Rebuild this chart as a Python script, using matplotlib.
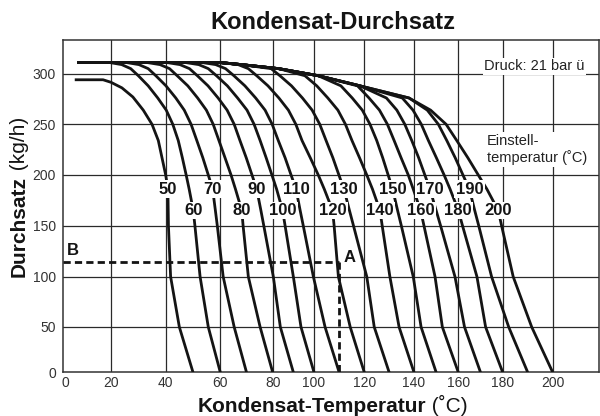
import numpy as np
import matplotlib
matplotlib.use('Agg')
import matplotlib.pyplot as plt

plt.rcParams['font.family'] = ['Liberation Sans', 'DejaVu Sans']

# set temperatures (degC) of the curve family
set_temps = [60, 70, 80, 90, 100, 110, 120, 130, 140, 150, 160, 170, 180, 190, 200]

flow_levels = [311, 309, 305, 298, 288, 276, 264, 250, 234, 217, 200, 186, 165, 150, 100, 50, 0]

t60 = [19.5, 23.9, 27.2, 30.0, 33.6, 37.1, 40.2, 42.6, 44.6, 46.1, 47.5, 48.6, 50.1, 50.7, 52.6, 55.6, 60]
t70 = [25.7, 30.2, 33.6, 36.4, 40.1, 43.7, 46.8, 49.3, 51.4, 53.6, 55.6, 57.2, 58.2, 58.9, 61.1, 65.3, 70]
t80 = [33.3, 37.9, 41.4, 44.2, 48.1, 51.7, 54.9, 57.4, 59.5, 61.8, 64.1, 65.8, 68.2, 68.7, 70.7, 75.2, 80]
t90 = [40.5, 45.2, 48.7, 51.6, 55.5, 59.2, 62.6, 65.3, 67.5, 69.9, 72.1, 73.9, 75.5, 76.6, 80.3, 83.7, 90]
t100 = [47.3, 52.1, 55.6, 58.6, 62.7, 66.6, 70.2, 72.9, 75.2, 77.5, 79.7, 81.9, 84.8, 86.0, 90.0, 93.7, 100]
t110 = [53.4, 58.3, 62.0, 65.2, 69.4, 73.5, 77.1, 79.8, 82.7, 86.0, 88.9, 91.3, 93.3, 94.8, 99.7, 104.4, 110]
t120 = [60.0, 66.8, 70.7, 73.9, 78.2, 83.0, 87.6, 91.2, 94.2, 98.2, 101.7, 104.1, 107.4, 108.0, 109.7, 114.4, 120]
t130 = [60, 68.0, 79.4, 83.5, 89.1, 94.4, 99.1, 102.3, 104.8, 107.5, 109.9, 111.9, 114.1, 115.7, 121.0, 124.0, 130]
t140 = [60, 68.0, 82.9, 95.6, 101.1, 105.5, 109.5, 112.5, 115.1, 118.1, 121.0, 123.3, 126.3, 127.2, 130.3, 134.0, 140]
t150 = [60, 68.0, 82.9, 101.7, 110.7, 115.2, 119.2, 122.3, 125.0, 127.4, 129.6, 131.4, 133.4, 134.9, 139.7, 143.2, 150]
t160 = [60, 68.0, 82.9, 101.7, 117.3, 121.9, 126.1, 129.3, 132.0, 134.8, 137.7, 139.7, 143.0, 144.5, 149.5, 152.8, 160]
t170 = [60, 68.0, 82.9, 101.7, 118.3, 128.9, 133.1, 136.3, 139.1, 142.1, 144.9, 147.2, 150.0, 152.0, 158.5, 162.8, 170]
t180 = [60, 68.0, 82.9, 101.7, 118.3, 135.3, 139.6, 143.3, 146.5, 150.1, 153.6, 156.3, 160.0, 161.9, 168.4, 172.3, 180]
t190 = [60, 68.0, 82.9, 101.7, 118.3, 138.0, 146.0, 151.0, 154.8, 158.6, 162.1, 165.0, 167.4, 169.2, 175.0, 182.4, 190]
t200 = [60, 68.0, 82.9, 101.7, 118.3, 138.0, 147.5, 154.5, 159.3, 164.3, 169.0, 172.9, 178.0, 179.5, 184.2, 191.6, 200]
curve_temps = [t60, t70, t80, t90, t100, t110, t120, t130, t140, t150,
               t160, t170, t180, t190, t200]

# common top line
plateau_start = 5
plateau_flow = 311

# the 50 degC curve runs lower and was read on its own
t50 = [4, 16.5, 20, 24, 28, 31.8, 35, 37.3, 40, 40.8, 41, 41.8, 45, 50]
q50 = [294, 294, 291.5, 286, 277, 264, 250, 234, 200, 186, 150, 100, 50, 0]

# curve labels sit in two rows
label_flow_odd = 186
label_flow_even = 165

# example reading B -> A
op_temp = 110
op_flow = 114

x_ticks = [0, 20, 40, 60, 80, 100, 120, 140, 160, 180, 200]
y_ticks = [0, 50, 100, 150, 200, 250, 300]

# the printed axes are not evenly divided: pixel position of every tick
x_knots = [-20] + x_ticks + [240]
x_pos = [20.4, 65.7, 111, 165.7, 220.3, 272.7, 314, 364.3, 414, 458.3, 502.7, 552.7, 652.7]
y_knots = [-50] + y_ticks + [400]
y_pos = [-1.6, 43.7, 89, 139.3, 190.3, 241, 291.7, 342.3, 443.5]

W, H = 600, 416
ink = '#141414'


def xf(t):
    return np.interp(t, x_knots, x_pos)


def xi(p):
    return np.interp(p, x_pos, x_knots)


def yf(q):
    return np.interp(q, y_knots, y_pos)


def yi(p):
    return np.interp(p, y_pos, y_knots)


fig = plt.figure(figsize=(W / 100, H / 100), dpi=100)
ax = fig.add_axes([62.7 / W, 43.7 / H, (598.5 - 62.7) / W, (375.7 - 43.7) / H])
ax.set_xscale('function', functions=(xf, xi))
ax.set_yscale('function', functions=(yf, yi))
ax.set_xlim(xi(62.7), xi(598.5))
ax.set_ylim(0, yi(375.7))

for t in x_ticks[1:]:
    ax.axvline(t, color='#2a2a2a', lw=0.9, zorder=1)
for q in y_ticks[1:]:
    ax.axhline(q, color='#2a2a2a', lw=0.9, zorder=1)

ax.set_xticks(x_ticks)
ax.set_yticks(y_ticks)
ax.tick_params(length=0, labelsize=10, colors='#333333')
ax.tick_params(axis='x', pad=3)
ax.tick_params(axis='y', pad=5)
for s in ax.spines.values():
    s.set_color('#333333')
    s.set_linewidth(1.1)

lab_style = dict(ha='center', va='center', fontsize=12, weight='bold', color=ink,
                 bbox=dict(fc='white', ec='none', pad=1.0), zorder=4)

ax.plot(t50, q50, color=ink, lw=2.0, solid_capstyle='butt', solid_joinstyle='round', zorder=3)
i50 = q50.index(label_flow_odd)
ax.text(t50[i50], label_flow_odd, '50', **lab_style)

for T, xs in zip(set_temps, curve_temps):
    ax.plot([plateau_start] + xs, [plateau_flow] + flow_levels, color=ink, lw=2.0,
            solid_capstyle='butt', solid_joinstyle='round', zorder=3)
    qlab = label_flow_odd if (T // 10) % 2 else label_flow_even
    ax.text(xs[flow_levels.index(qlab)], qlab, str(T), **lab_style)

dash = (0, (2.6, 1.5))
ax.plot([ax.get_xlim()[0], op_temp], [op_flow, op_flow], color=ink, lw=2.0, ls=dash, zorder=5)
ax.plot([op_temp, op_temp], [op_flow, 0], color=ink, lw=2.0, ls=dash, zorder=5)
ax.text(3.1, 126, 'B', ha='center', va='center', fontsize=12, weight='bold', color=ink, zorder=5)
ax.text(114.3, 119, 'A', ha='center', va='center', fontsize=12, weight='bold', color=ink, zorder=5)

ax.text(xi(585), yi(416 - 66.5), 'Druck: 21 bar ü', ha='right', va='center',
        fontsize=10.5, color='#222222', zorder=4,
        bbox=dict(fc='white', ec='none', pad=1.0))
ax.text(xi(486.7), yi(416 - 149.6), 'Einstell-\ntemperatur (˚C)', ha='left', va='center',
        fontsize=10.5, color='#222222', linespacing=1.2, zorder=4,
        bbox=dict(fc='white', ec='none', pad=1.0))

fig.text(333 / W, 1 - 29.3 / H, 'Kondensat-Durchsatz', ha='center', va='baseline',
         fontsize=17, weight='bold', color=ink)

# axis titles: bold word + regular unit
xb = fig.text(0, 1 - 411.5 / H, 'Kondensat-Temperatur', ha='left', va='baseline',
              fontsize=15, weight='bold', color=ink)
xr = fig.text(0, 1 - 411.5 / H, ' (˚C)', ha='left', va='baseline', fontsize=15, color=ink)
yb = fig.text(25 / W, 1 - 276.7 / H, 'Durchsatz', ha='left', va='baseline', rotation=90,
              rotation_mode='anchor', fontsize=15, weight='bold', color=ink)
yr = fig.text(25 / W, 0, ' (kg/h)', ha='left', va='baseline', rotation=90,
              rotation_mode='anchor', fontsize=15, color=ink)

fig.canvas.draw()
r = fig.canvas.get_renderer()
w1 = xb.get_window_extent(r).width
w2 = xr.get_window_extent(r).width
x0 = 333 - (w1 + w2) / 2
xb.set_x(x0 / W)
xr.set_x((x0 + w1) / W)
h1 = yb.get_window_extent(r).height
yr.set_y((H - 276.7 + h1) / H)

fig.savefig('out.png', dpi=100)
